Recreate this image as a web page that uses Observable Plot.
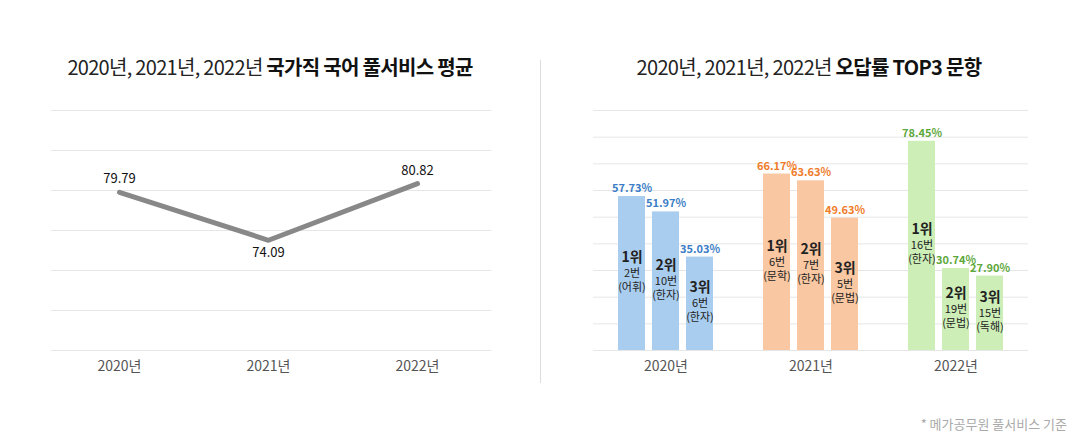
<!DOCTYPE html>
<html><head><meta charset="utf-8">
<script src="https://cdn.jsdelivr.net/npm/d3@7"></script>
<script src="https://cdn.jsdelivr.net/npm/@observablehq/plot@0.6"></script>
<style>
body{margin:0;background:#fff;font-family:"Noto Sans CJK KR","Noto Sans",sans-serif;}
#wrap{position:relative;width:1080px;height:442px;overflow:hidden;background:#fff}
.title{position:absolute;top:53px;height:28px;line-height:28px;font-size:20px;color:#222;white-space:nowrap;transform:translateX(-50%);letter-spacing:-0.7px}
.title b{font-weight:700;color:#111}
#divider{position:absolute;left:540px;top:60px;width:1px;height:323px;background:#dcdcdc}
#left{position:absolute;left:0;top:100px}
#right{position:absolute;left:540px;top:100px}
#note{position:absolute;right:13px;top:415px;font-size:13px;line-height:18px;color:#aaa}
svg text{font-family:"Noto Sans CJK KR","Noto Sans",sans-serif}
</style></head>
<body>
<div id="wrap">
  <div class="title" style="left:270px">2020년, 2021년, 2022년 <b>국가직 국어 풀서비스 평균</b></div>
  <div class="title" style="left:809px">2020년, 2021년, 2022년 <b>오답률 TOP3 문항</b></div>
  <div id="divider"></div>
  <div id="left"></div>
  <div id="right"></div>
  <div id="note">* 메가공무원 풀서비스 기준</div>
</div>
<script>
// ---- data ----
const years = ["2020년", "2021년", "2022년"];
const avgScores = [79.79, 74.09, 80.82];

const ranks = [1, 2, 3];
const rates2020 = [57.73, 51.97, 35.03];
const rates2021 = [66.17, 63.63, 49.63];
const rates2022 = [78.45, 30.74, 27.90];
const questions2020 = ["2번", "10번", "6번"];
const questions2021 = ["6번", "7번", "5번"];
const questions2022 = ["16번", "19번", "15번"];
const areas2020 = ["(어휘)", "(한자)", "(한자)"];
const areas2021 = ["(문학)", "(한자)", "(문법)"];
const areas2022 = ["(한자)", "(문법)", "(독해)"];

const barColors = ["#a9cdef", "#f9c7a1", "#cdefb7"];
const labelColors = ["#3b7dc6", "#f07c2a", "#5ea83c"];

// ---- tables ----
const FONT = '"Noto Sans CJK KR","Noto Sans",sans-serif';
const lineData = years.map((y, i) => ({year: y, value: avgScores[i]}));
const minVal = d3.min(avgScores);

const rateSets = [rates2020, rates2021, rates2022];
const qSets = [questions2020, questions2021, questions2022];
const aSets = [areas2020, areas2021, areas2022];
const barData = [];
years.forEach((y, yi) => {
  ranks.forEach((r, ri) => {
    barData.push({
      year: y, rank: r, value: rateSets[yi][ri],
      question: qSets[yi][ri], area: aSets[yi][ri],
      fill: barColors[yi], labelFill: labelColors[yi]
    });
  });
});

// ---- left: line chart ----
const leftGrid = d3.range(7).map(i => 61 + i * 4.75);
const left = Plot.plot({
  width: 520, height: 290,
  marginTop: 10, marginBottom: 40, marginLeft: 51, marginRight: 29,
  style: {fontFamily: FONT, background: "transparent"},
  x: {type: "point", domain: years, padding: 0.47, align: 0.48, axis: null},
  y: {domain: [61, 89.5], axis: null},
  marks: [
    Plot.gridY(leftGrid, {stroke: "#e6e6e6", strokeOpacity: 1}),
    Plot.axisX({tickSize: 0, tickPadding: 11, fontSize: 14, fill: "#555", label: null}),
    Plot.line(lineData, {x: "year", y: "value", stroke: "#888", strokeWidth: 5, strokeLinecap: "round", strokeLinejoin: "round"}),
    Plot.text(lineData.filter(d => d.value !== minVal), {x: "year", y: "value", text: d => d.value.toFixed(2), dy: -13, fontSize: 13, fill: "#111"}),
    Plot.text(lineData.filter(d => d.value === minVal), {x: "year", y: "value", text: d => d.value.toFixed(2), dy: 13, fontSize: 13, fill: "#111"})
  ]
});
document.getElementById("left").appendChild(left);

// ---- right: grouped bars ----
const right = Plot.plot({
  width: 540, height: 290,
  marginTop: 10, marginBottom: 40, marginLeft: 52, marginRight: 52,
  style: {fontFamily: FONT, background: "transparent"},
  fx: {domain: years, padding: 0, label: null},
  x: {domain: ranks, paddingInner: 0.2, paddingOuter: 0.675, axis: null},
  y: {domain: [0, 90], axis: null},
  color: {type: "identity"},
  marks: [
    Plot.gridY(d3.range(0, 91, 10), {stroke: "#e6e6e6", strokeOpacity: 1}),
    Plot.axisFx({anchor: "bottom", tickSize: 0, tickPadding: 11, fontSize: 14, fill: "#555", label: null}),
    Plot.barY(barData, {fx: "year", x: "rank", y: "value", fill: "fill"}),
    Plot.text(barData, {fx: "year", x: "rank", y: "value", text: d => d.value.toFixed(2) + "%", dy: -8, fill: "labelFill", fontSize: 11, fontWeight: "bold", letterSpacing: "-0.3px"}),
    Plot.text(barData, {fx: "year", x: "rank", y: d => d.value / 2, text: d => d.rank + "위", dy: -16, fontSize: 14, fontWeight: "bold", fill: "#222"}),
    Plot.text(barData, {fx: "year", x: "rank", y: d => d.value / 2, text: "question", dy: 0, fontSize: 11, fill: "#222"}),
    Plot.text(barData, {fx: "year", x: "rank", y: d => d.value / 2, text: "area", dy: 14, fontSize: 11, fill: "#222"})
  ]
});
document.getElementById("right").appendChild(right);
</script>
</body></html>
